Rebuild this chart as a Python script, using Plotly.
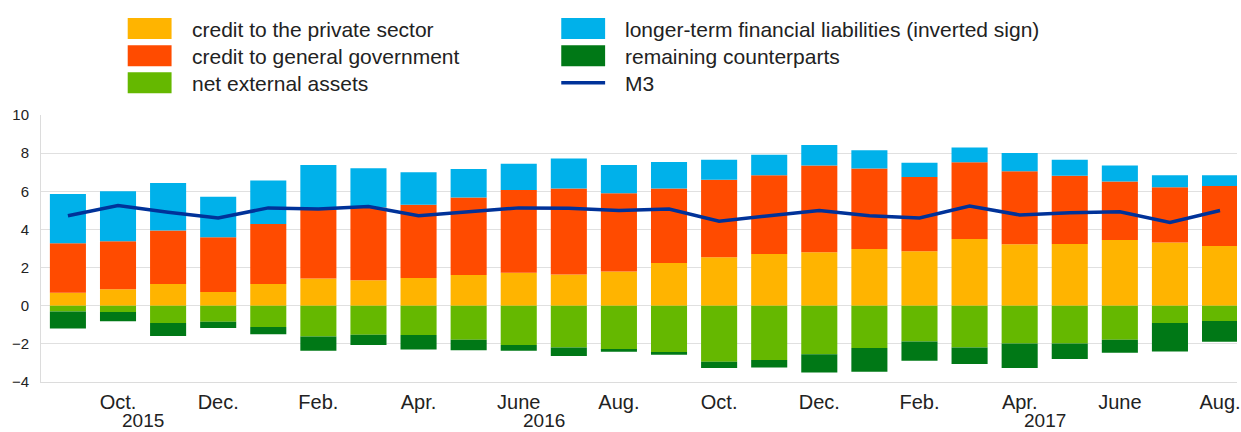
import plotly.graph_objects as go

# ---------------- data ----------------
months = ["2015-09", "2015-10", "2015-11", "2015-12", "2016-01", "2016-02", "2016-03", "2016-04",
          "2016-05", "2016-06", "2016-07", "2016-08", "2016-09", "2016-10", "2016-11", "2016-12",
          "2017-01", "2017-02", "2017-03", "2017-04", "2017-05", "2017-06", "2017-07", "2017-08"]

credit_private = [0.68, 0.86, 1.14, 0.72, 1.14, 1.43, 1.33, 1.45, 1.61, 1.73, 1.64, 1.80,
                  2.24, 2.54, 2.71, 2.80, 2.97, 2.85, 3.50, 3.22, 3.24, 3.45, 3.31, 3.13]
credit_government = [2.59, 2.52, 2.80, 2.87, 3.15, 3.59, 3.82, 3.85, 4.06, 4.34, 4.50, 4.10,
                     3.90, 4.06, 4.13, 4.55, 4.22, 3.90, 4.02, 3.83, 3.57, 3.06, 2.90, 3.15]
longer_term_liab = [2.59, 2.62, 2.50, 2.13, 2.27, 2.36, 2.06, 1.70, 1.50, 1.38, 1.58, 1.48,
                    1.40, 1.05, 1.07, 1.08, 0.96, 0.74, 0.77, 0.96, 0.84, 0.84, 0.63, 0.56]
net_external = [-0.30, -0.33, -0.91, -0.84, -1.12, -1.61, -1.52, -1.54, -1.78, -2.06, -2.19, -2.31,
                -2.43, -2.94, -2.85, -2.54, -2.22, -1.87, -2.19, -1.98, -1.98, -1.78, -0.91, -0.80]
remaining = [-0.89, -0.49, -0.68, -0.33, -0.37, -0.75, -0.54, -0.75, -0.55, -0.30, -0.45, -0.10,
             -0.14, -0.33, -0.39, -0.96, -1.24, -1.02, -0.87, -1.29, -0.82, -0.69, -1.49, -1.09]
m3 = [4.72, 5.25, 4.90, 4.60, 5.13, 5.07, 5.20, 4.72, 4.93, 5.13, 5.11, 4.99,
      5.07, 4.43, 4.72, 4.99, 4.72, 4.60, 5.23, 4.76, 4.88, 4.93, 4.37, 4.99]

tick_months = ["2015-10", "2015-12", "2016-02", "2016-04", "2016-06", "2016-08",
               "2016-10", "2016-12", "2017-02", "2017-04", "2017-06", "2017-08"]
tick_labels = ["Oct.", "Dec.", "Feb.", "Apr.", "June", "Aug.",
               "Oct.", "Dec.", "Feb.", "Apr.", "June", "Aug."]
year_labels = ["2015", "2016", "2017"]
year_after_month = ["2015-10", "2016-06", "2017-04"]

colors = {
    "credit to the private sector": "#FFB400",
    "credit to general government": "#FF4B00",
    "net external assets": "#65B800",
    "longer-term financial liabilities (inverted sign)": "#00B1EA",
    "remaining counterparts": "#007816",
    "M3": "#003299",
}

# ---------------- layout constants ----------------
W, H = 1241, 432
ML, MR, MT, MB = 41, 0, 115, 50
PW, PH = W - ML - MR, H - MT - MB
FONT = "Liberation Sans, Arial, Helvetica, sans-serif"
TXT = "#222222"

fig = go.Figure()

bar_series = [
    ("credit to the private sector", credit_private),
    ("credit to general government", credit_government),
    ("longer-term financial liabilities (inverted sign)", longer_term_liab),
    ("net external assets", net_external),
    ("remaining counterparts", remaining),
]
for name, vals in bar_series:
    fig.add_trace(go.Bar(x=months, y=vals, name=name, marker_color=colors[name],
                         marker_line_width=0, width=0.72, showlegend=False))

fig.add_trace(go.Scatter(x=months, y=m3, name="M3", mode="lines",
                         line=dict(color=colors["M3"], width=3.5), showlegend=False))

# x range in category units so first bar centre at pixel ~68 and last bar clipped at right
x0 = (ML - 68) / 50.26
x1 = x0 + PW / 50.26

fig.update_layout(
    width=W, height=H,
    margin=dict(l=ML, r=MR, t=MT, b=MB, pad=0),
    barmode="relative",
    plot_bgcolor="white", paper_bgcolor="white",
    font=dict(family=FONT, color=TXT, size=20),
    xaxis=dict(type="category", range=[x0, x1], tickmode="array",
               tickvals=tick_months, ticktext=tick_labels, showgrid=False,
               ticks="", tickfont=dict(size=20, color=TXT), showline=True,
               linecolor="#dcdcdc", linewidth=1, zeroline=False, ticklabelstandoff=2),
    yaxis=dict(range=[-4, 10], dtick=2, showgrid=True, gridcolor="#e0e0e0", gridwidth=1,
               zeroline=True, zerolinecolor="#e0e0e0", zerolinewidth=1,
               showline=True, linecolor="#dcdcdc", linewidth=1, ticks="",
               tickfont=dict(size=15, color=TXT), ticklabelstandoff=8),
)

# year labels between month ticks
for lab, m in zip(year_labels, year_after_month):
    fig.add_annotation(x=months.index(m) + 0.5, y=-(420.5 - (H - MB)) / PH, xref="x", yref="paper",
                       text=lab, showarrow=False, font=dict(size=19, color=TXT),
                       xanchor="center", yanchor="middle", borderpad=0)


# manual legend (pixel -> paper helpers)
def px_x(p):
    return (p - ML) / PW


def px_y(p):
    return (H - MB - p) / PH


legend_layout = [
    ("credit to the private sector", 128, 28.5),
    ("credit to general government", 128, 55.8),
    ("net external assets", 128, 82.7),
    ("longer-term financial liabilities (inverted sign)", 563, 28.5),
    ("remaining counterparts", 563, 55.8),
    ("M3", 563, 82.7),
]
for name, lx, ly in legend_layout:
    if name == "M3":
        fig.add_shape(type="line", xref="paper", yref="paper",
                      x0=px_x(lx), x1=px_x(lx + 44), y0=px_y(ly), y1=px_y(ly),
                      line=dict(color=colors[name], width=3.5))
    else:
        fig.add_shape(type="rect", xref="paper", yref="paper",
                      x0=px_x(lx), x1=px_x(lx + 44), y0=px_y(ly - 10.5), y1=px_y(ly + 10.5),
                      fillcolor=colors[name], line=dict(width=0))
    fig.add_annotation(x=px_x(lx + 62), y=px_y(ly + 1), xref="paper", yref="paper",
                       text=name, showarrow=False, xanchor="left", yanchor="middle",
                       font=dict(size=21, color=TXT))

fig.write_html("out.html", config={"displayModeBar": False},
               post_script="document.body.style.margin='0';document.body.style.overflow='hidden';")
